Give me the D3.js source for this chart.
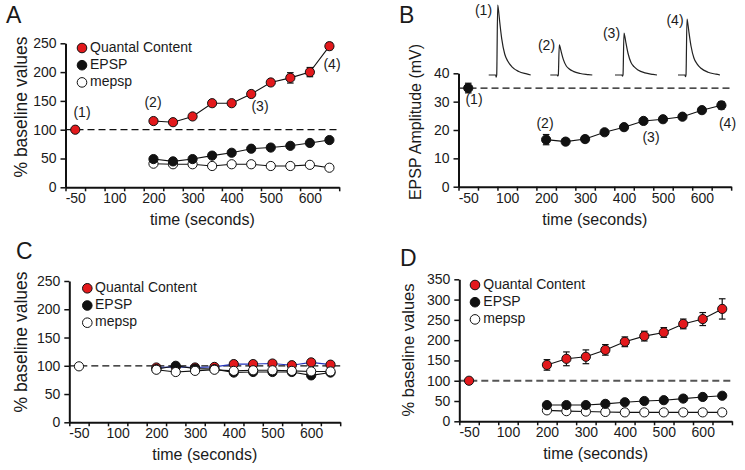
<!DOCTYPE html>
<html><head><meta charset="utf-8">
<script src="https://cdn.jsdelivr.net/npm/d3@7"></script>
<style>
body{margin:0;background:#fff;}
text{font-family:"Liberation Sans",Arial,Helvetica,sans-serif;fill:#1a1a1a;}
</style></head>
<body><svg id="c" width="745" height="470"></svg>
<script>
// ---------- data ----------
const times = [200,250,300,350,400,450,500,550,600,650];
const baseTime = -50;
const xLabels = [-50,100,200,300,400,500,600];
const xTickMarks = [-87.5,-12.5,62.5,125,175,225,275,325,375,425,475,525,575,625,675];

// Panel A
const aQuantal    = [115,113,123,146,146,162,182,190,200,245];
const aQuantalErr = [2,2,2,2,2,4,3,9,8,6];
const aEPSP       = [49,45,49,55,60,67,69,72,77,82];
const aMepsp      = [41,40,40,37,40,40,37,37,39,34];
const aBaseQuantal = 100;
const aYTicks = [0,50,100,150,200,250];

// Panel B
const bEPSP    = [16.6,15.9,16.8,19.2,21.0,23.2,23.8,24.7,27.0,28.7];
const bEPSPErr = [1.8,1,1,0.8,0.9,0.8,0.6,0.6,0.9,1.3];
const bBase = 34.8, bBaseErr = 1.7;
const bYTicks = [0,10,20,30,40];
const traceAmps = [36,15.5,21.5,28.7];
const traceLabels = ["(1)","(2)","(3)","(4)"];
// normalized trace shape: [px offset from rise, fraction of peak]
const traceShape = [[-8,0],[-1,0],[-0.5,-0.03],[0,0],[1,1],[2,0.9],[3,0.76],[5,0.52],[8,0.3],[11,0.2],[15,0.12],[22,0.05],[30,0.015],[34,0]];

// Panel C
const cQuantal = [97,98,97,98,103,103,104,101,106,102];
const cEPSP    = [94,100,95,94,88,89,89,89,83,88];
const cMepsp   = [93,89,91,93,91,92,92,91,90,90];
const cBaseMepsp = 99;

// Panel D
const dQuantal    = [139,154,159,176,196,210,219,240,252,277];
const dQuantalErr = [13,17,17,13,12,12,12,12,16,25];
const dEPSP       = [40,40,40,43,47,50,52,56,60,63];
const dMepsp      = [27,25,24,23,22,22,22,22,22,22];
const dBaseQuantal = 100;
const dYTicks = [0,50,100,150,200,250,300,350];

const legendNames = ["Quantal Content","EPSP","mepsp"];
const RED = "#e3191c";

// ---------- drawing ----------
const svg = d3.select("#c");
const FONT = '"Liberation Sans",Arial,Helvetica,sans-serif';

function makeX(L,k){ // k = px per display unit
  return d3.scaleLinear().domain([-87.5,100,675]).range([L, L+125*k, L+700*k]);
}

function axes(g,x,y,yTicks,opt){
  const y0 = y.range()[0];
  const L = x.range()[0];
  const ya = g.append("g").attr("transform",`translate(${L},0)`)
    .call(d3.axisLeft(y).tickValues(yTicks).tickSize(5).tickSizeOuter(0).tickPadding(4));
  ya.select(".domain").attr("stroke","#111").attr("stroke-width",2);
  ya.selectAll(".tick line").attr("stroke","#111").attr("stroke-width",1.5);
  ya.selectAll("text").attr("font-size",14).attr("font-family",FONT).attr("fill","#1a1a1a");
  const xa = g.append("g").attr("transform",`translate(0,${y0})`)
    .call(d3.axisBottom(x).tickValues(xTickMarks).tickSize(4).tickSizeOuter(0).tickFormat(""));
  xa.select(".domain").attr("stroke","#111").attr("stroke-width",2);
  xa.selectAll(".tick line").attr("stroke","#111").attr("stroke-width",1.5);
  const xl = g.append("g").attr("transform",`translate(0,${y0})`)
    .call(d3.axisBottom(x).tickValues(xLabels).tickSize(0).tickPadding(6).tickFormat(d=>String(d)));
  xl.select(".domain").remove();
  xl.selectAll("text").attr("font-size",14).attr("font-family",FONT).attr("fill","#1a1a1a");
  g.append("text").attr("x",(x.range()[0]+x.range()[2])/2).attr("y",y0+38)
    .attr("text-anchor","middle").attr("font-size",16).text("time (seconds)");
  g.append("text").attr("transform",`translate(${opt.ytx},${opt.yty}) rotate(-90)`)
    .attr("text-anchor","middle").attr("dominant-baseline","middle")
    .attr("font-size",opt.ytSize).text(opt.ytitle);
  g.append("text").attr("x",opt.lx).attr("y",opt.ly).attr("font-size",23).text(opt.letter);
}

function dashed(g,x,y,v,color,w){
  g.append("line").attr("x1",x.range()[0]).attr("x2",x.range()[2])
    .attr("y1",y(v)).attr("y2",y(v)).attr("stroke",color).attr("stroke-width",w)
    .attr("stroke-dasharray","7,4");
}

function series(g,x,y,vals,errs,fill,lineColor){
  const pts = times.map((t,i)=>({t,v:vals[i],e:errs?errs[i]:0}));
  g.append("path").datum(pts).attr("fill","none").attr("stroke",lineColor||"#111").attr("stroke-width",1.1)
    .attr("d",d3.line().x(d=>x(d.t)).y(d=>y(d.v)));
  drawPts(g,x,y,pts,fill);
}
function drawPts(g,x,y,pts,fill){
  const eb = g.append("g").attr("stroke","#111").attr("stroke-width",1.2);
  pts.filter(d=>d.e>0).forEach(d=>{
    const cx=x(d.t);
    eb.append("line").attr("x1",cx).attr("x2",cx).attr("y1",y(d.v-d.e)).attr("y2",y(d.v+d.e));
    [d.v-d.e,d.v+d.e].forEach(v=>eb.append("line").attr("x1",cx-3.3).attr("x2",cx+3.3).attr("y1",y(v)).attr("y2",y(v)));
  });
  g.append("g").selectAll("circle").data(pts).join("circle")
    .attr("cx",d=>x(d.t)).attr("cy",d=>y(d.v)).attr("r",4.6)
    .attr("fill",fill).attr("stroke","#111").attr("stroke-width",1);
}

function legend(g,cx,cy0,tx){
  const fills=[RED,"#111","#fff"];
  legendNames.forEach((n,i)=>{
    const cy = cy0 + i*17.2;
    g.append("circle").attr("cx",cx).attr("cy",cy).attr("r",4.8).attr("fill",fills[i]).attr("stroke","#111").attr("stroke-width",1);
    g.append("text").attr("x",tx).attr("y",cy).attr("dominant-baseline","middle").attr("font-size",14).text(n);
  });
}
function lab(g,t,xp,yp){
  g.append("text").attr("x",xp).attr("y",yp).attr("text-anchor","middle").attr("dominant-baseline","middle").attr("font-size",14).text(t);
}

// ----- Panel A -----
{
  const g = svg.append("g");
  const x = makeX(65.5,0.391);
  const y = d3.scaleLinear().domain([0,250]).range([187.3,43.3]);
  dashed(g,x,y,100,"#111",1.2);
  axes(g,x,y,aYTicks,{ytx:22,yty:107,ytSize:17.5,ytitle:"% baseline values",lx:6,ly:23,letter:"A"});
  series(g,x,y,aMepsp,null,"#fff");
  series(g,x,y,aEPSP,null,"#111");
  series(g,x,y,aQuantal,aQuantalErr,RED);
  drawPts(g,x,y,[{t:baseTime,v:aBaseQuantal,e:0}],RED);
  legend(g,82,48,90);
  lab(g,"(1)",82,113); lab(g,"(2)",153,103); lab(g,"(3)",260,107); lab(g,"(4)",332,65);
}

// ----- Panel B -----
{
  const g = svg.append("g");
  const x = makeX(458.5,0.3895);
  const y = d3.scaleLinear().domain([0,40]).range([186.7,73.3]);
  dashed(g,x,y,bBase,"#111",1.2);
  axes(g,x,y,bYTicks,{ytx:417,yty:122,ytSize:16,ytitle:"EPSP Amplitude (mV)",lx:399,ly:23,letter:"B"});
  series(g,x,y,bEPSP,bEPSPErr,"#111");
  drawPts(g,x,y,[{t:baseTime,v:bBase,e:bBaseErr}],"#111");
  lab(g,"(1)",474,100); lab(g,"(2)",545,124); lab(g,"(3)",651,138); lab(g,"(4)",727.5,124);
  const riseX = [496.7,558.3,623,686];
  const labPos = [[483.5,11],[546.5,46],[611.5,34],[675,21]];
  const ty = d3.scaleLinear().domain([0,36]).range([75,5]);
  traceAmps.forEach((amp,i)=>{
    const line = d3.line().x(d=>riseX[i]+d[0]).y(d=>ty(d[1]*amp)).curve(d3.curveMonotoneX);
    g.append("path").attr("d",line(traceShape)).attr("fill","none").attr("stroke","#222").attr("stroke-width",1.2);
    lab(g,traceLabels[i],labPos[i][0],labPos[i][1]);
  });
}

// ----- Panel C -----
{
  const g = svg.append("g");
  const x = makeX(69.3,0.387);
  const y = d3.scaleLinear().domain([0,250]).range([422.3,281]);
  dashed(g,x,y,100,"#111",1.2);
  axes(g,x,y,aYTicks,{ytx:22,yty:342,ytSize:17.5,ytitle:"% baseline values",lx:16,ly:259,letter:"C"});
  series(g,x,y,cQuantal,null,RED,"#2233bb");
  series(g,x,y,cEPSP,null,"#111");
  series(g,x,y,cMepsp,null,"#fff");
  drawPts(g,x,y,[{t:baseTime,v:cBaseMepsp,e:0}],"#fff");
  legend(g,87.3,288.3,95);
}

// ----- Panel D -----
{
  const g = svg.append("g");
  const x = makeX(459.3,0.3895);
  const y = d3.scaleLinear().domain([0,350]).range([421.3,279.3]);
  dashed(g,x,y,100,"#555",1.8);
  axes(g,x,y,dYTicks,{ytx:410,yty:350,ytSize:16.5,ytitle:"% baseline values",lx:400,ly:266,letter:"D"});
  series(g,x,y,dMepsp,null,"#fff");
  series(g,x,y,dEPSP,null,"#111");
  series(g,x,y,dQuantal,dQuantalErr,RED);
  drawPts(g,x,y,[{t:baseTime,v:dBaseQuantal,e:0}],RED);
  legend(g,475,285,483.3);
}
</script></body></html>
